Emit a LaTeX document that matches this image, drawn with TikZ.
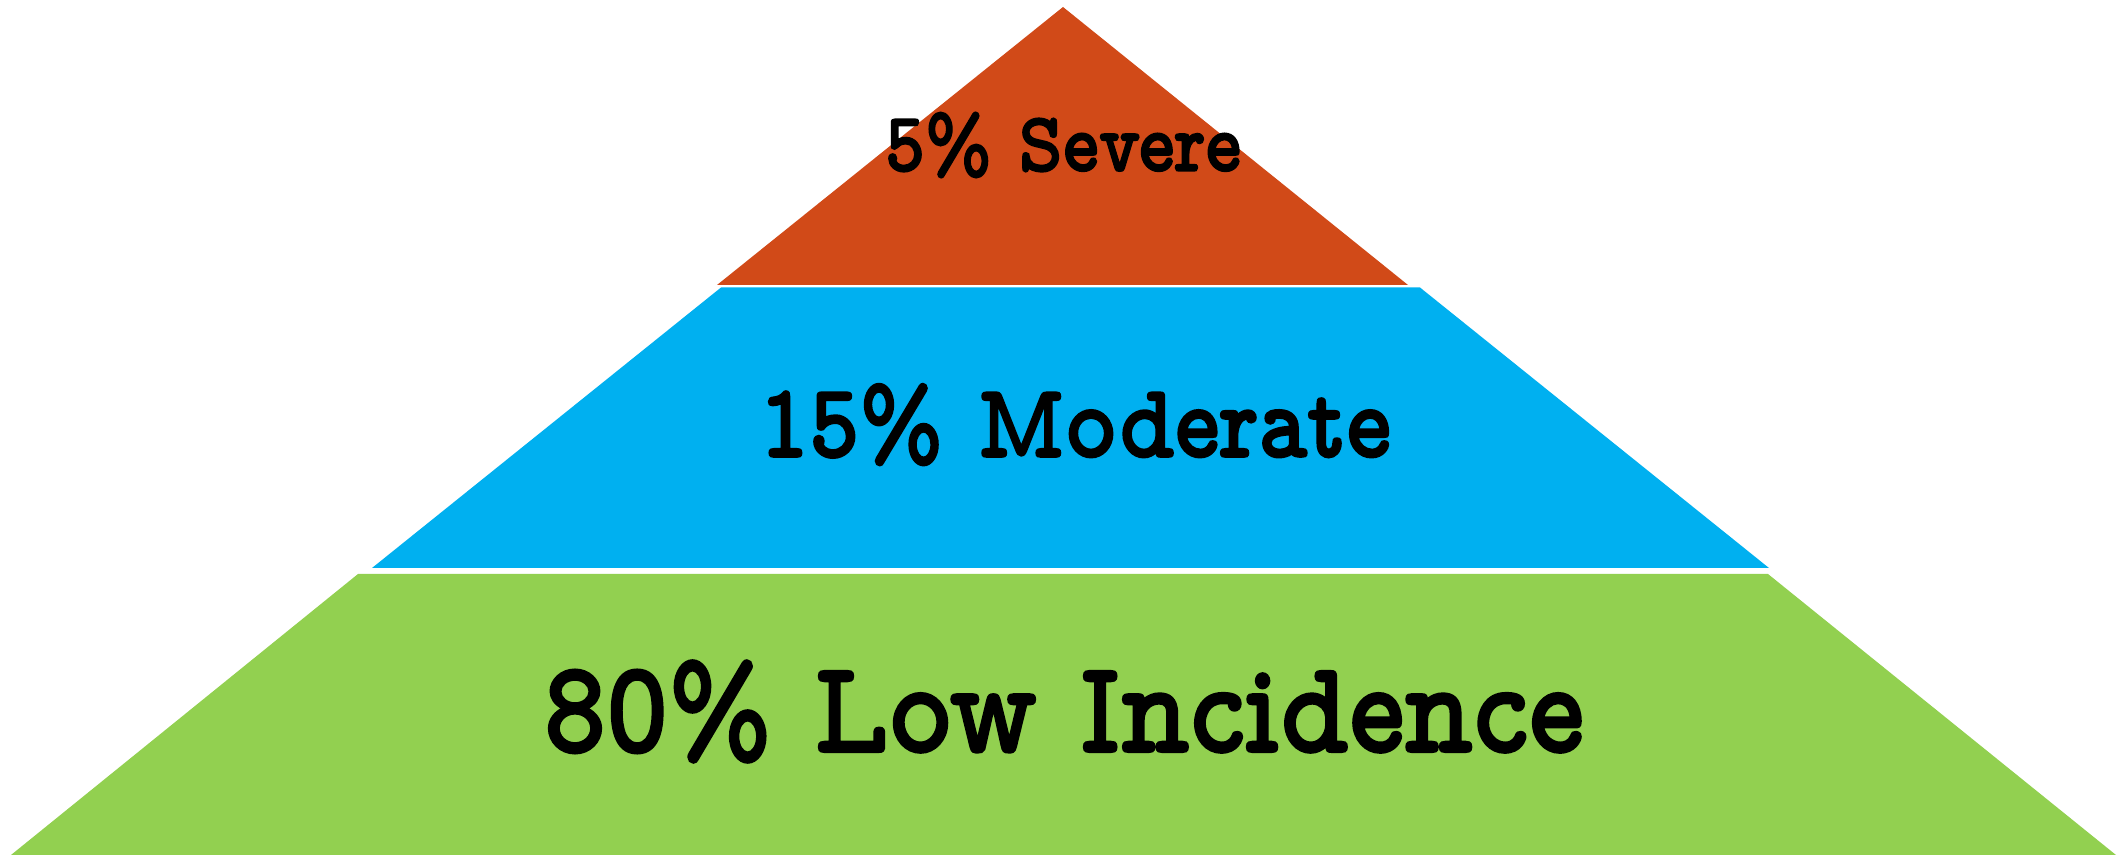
\documentclass[tikz,border=0pt]{standalone}
\usepackage{fontspec}
\newfontfamily\lblfont{lmmonoproplt10-bold}[Extension=.otf, FakeBold=1.6]
\definecolor{sevred}{HTML}{D14A18}
\definecolor{modblue}{HTML}{00B0F0}
\definecolor{lowgreen}{HTML}{92D050}
\tikzset{
  band/.style={draw=none},
  lbl/.style={inner sep=0pt, anchor=base, text=black},
}
\newcommand{\fitlbl}[3]{\resizebox{#1}{\height}{\lblfont\fontsize{#2}{#2}\selectfont #3}}
\begin{document}
\begin{tikzpicture}[x=0.5pt,y=-0.5pt]
\useasboundingbox (0,0) rectangle (2117,855);
% bands
\fill[band, sevred] (1063,7) -- (1408,285) -- (717,285) -- cycle;
\fill[band, modblue] (721,287.5) -- (1420,287.5) -- (1769,568) -- (372,568) -- cycle;
\fill[band, lowgreen] (358,574) -- (1768,574) -- (2116,855) -- (11,855) -- cycle;
% labels
\node[lbl] (severe) at (1063,171) {\fitlbl{178pt}{42.5pt}{5\% Severe}};
\node[lbl] (moderate) at (1075,457) {\fitlbl{316pt}{53pt}{15\% Moderate}};
\node[lbl] (low) at (1064,752) {\fitlbl{520pt}{66.3pt}{80\% Low Incidence}};
\end{tikzpicture}
\end{document}
